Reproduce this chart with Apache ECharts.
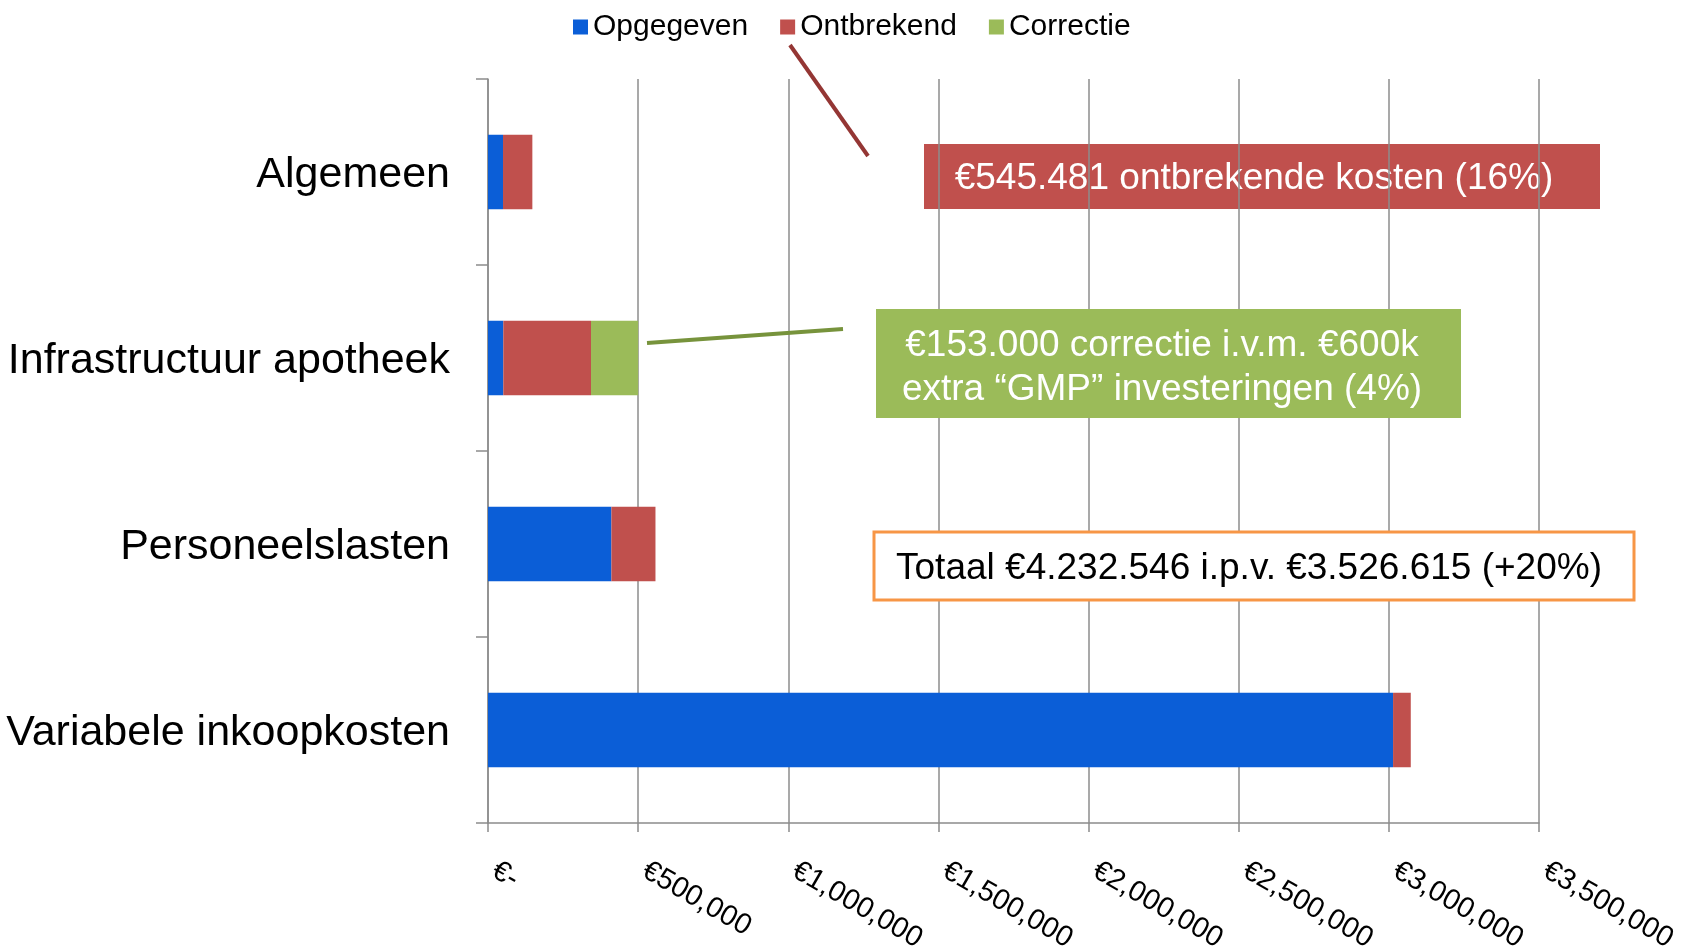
<!DOCTYPE html>
<html>
<head>
<meta charset="utf-8">
<script src="https://cdn.jsdelivr.net/npm/echarts@6/dist/echarts.min.js"></script>
<style>
  html, body { margin: 0; padding: 0; background: #fff; }
  #main { width: 1691px; height: 952px; }
</style>
</head>
<body>
<div id="main"></div>
<script>
var FONT = '"Liberation Sans", Arial, sans-serif';

var categories = ['Algemeen', 'Infrastructuur apotheek', 'Personeelslasten', 'Variabele inkoopkosten'];
var opgegeven = [50000, 51000, 411000, 3014000];
var ontbrekend = [97700, 292000, 146700, 59000];
var correctie = [0, 157000, 0, 0];

var axisMax = 3500000;
var axisStep = 500000;

var gray = '#8c8c8c';

function euro(v) {
  if (v === 0) return '€-';
  return '€' + v.toLocaleString('en-US');
}

var chart = echarts.init(document.getElementById('main'), null, { renderer: 'canvas' });

var option = {
  animation: false,
  textStyle: { fontFamily: FONT },
  legend: {
    left: 568,
    top: 7,
    icon: 'rect',
    itemWidth: 15,
    itemHeight: 15,
    itemGap: 32,
    textStyle: { fontSize: 30, color: '#000', fontFamily: FONT },
    data: ['Opgegeven', 'Ontbrekend', 'Correctie']
  },
  grid: {
    left: 488,
    right: 152,
    top: 79,
    bottom: 129,
    containLabel: false,
    outerBoundsMode: 'none'
  },
  xAxis: {
    type: 'value',
    min: 0,
    max: axisMax,
    interval: axisStep,
    axisLine: { show: true, lineStyle: { color: gray, width: 1.5 } },
    axisTick: { show: true, length: 9, lineStyle: { color: gray, width: 1.5 } },
    splitLine: { show: true, lineStyle: { color: gray, width: 1.5 } },
    axisLabel: {
      rotate: -30,
      margin: 42,
      padding: [0, 0, 0, 7],
      fontSize: 29,
      color: '#000',
      fontFamily: FONT,
      formatter: euro
    }
  },
  yAxis: {
    type: 'category',
    inverse: true,
    data: categories,
    axisLine: { show: true, lineStyle: { color: gray, width: 1.5 } },
    axisTick: { show: true, length: 12, lineStyle: { color: gray, width: 1.5 } },
    axisLabel: {
      color: '#000',
      margin: 38,
      formatter: function (v) { return '{c|' + v + '}'; },
      rich: {
        c: { fontSize: 43, color: '#000', fontFamily: FONT, padding: [7, 0, 0, 0] }
      }
    }
  },
  series: [
    {
      name: 'Opgegeven',
      type: 'bar',
      stack: 'kosten',
      barWidth: '40%',
      itemStyle: { color: '#0b5ed7' },
      data: opgegeven
    },
    {
      name: 'Ontbrekend',
      type: 'bar',
      stack: 'kosten',
      barWidth: '40%',
      itemStyle: { color: '#c0504d' },
      data: ontbrekend
    },
    {
      name: 'Correctie',
      type: 'bar',
      stack: 'kosten',
      barWidth: '40%',
      itemStyle: { color: '#9bbb59' },
      data: correctie
    }
  ],
  graphic: [
    // rode callout ligt achter de rasterlijnen
    {
      type: 'rect',
      z: -1,
      shape: { x: 924, y: 144, width: 676, height: 65 },
      style: { fill: '#c0504d' }
    },
    {
      type: 'text',
      z: -1,
      x: 1254,
      y: 179,
      style: {
        text: '€545.481 ontbrekende kosten (16%)',
        fill: '#fff',
        font: '37px ' + FONT,
        textAlign: 'center',
        textVerticalAlign: 'middle'
      }
    },
    {
      type: 'line',
      z: 10,
      shape: { x1: 790, y1: 45, x2: 868, y2: 156 },
      style: { stroke: '#943634', lineWidth: 4 }
    },
    // groene callout
    {
      type: 'rect',
      z: 10,
      shape: { x: 876, y: 309, width: 585, height: 109 },
      style: { fill: '#9bbb59' }
    },
    {
      type: 'text',
      z: 11,
      x: 1162,
      y: 368,
      style: {
        text: '€153.000 correctie i.v.m. €600k\nextra “GMP” investeringen (4%)',
        fill: '#fff',
        font: '37px ' + FONT,
        lineHeight: 44,
        textAlign: 'center',
        textVerticalAlign: 'middle'
      }
    },
    {
      type: 'line',
      z: 10,
      shape: { x1: 647, y1: 343, x2: 843, y2: 329 },
      style: { stroke: '#77933c', lineWidth: 4 }
    },
    // totaal
    {
      type: 'rect',
      z: 10,
      shape: { x: 874, y: 532, width: 760, height: 68 },
      style: { fill: '#fff', stroke: '#f79646', lineWidth: 3 }
    },
    {
      type: 'text',
      z: 11,
      x: 1249,
      y: 569,
      style: {
        text: 'Totaal €4.232.546 i.p.v. €3.526.615 (+20%)',
        fill: '#000',
        font: '37px ' + FONT,
        textAlign: 'center',
        textVerticalAlign: 'middle'
      }
    }
  ]
};

chart.setOption(option);
</script>
</body>
</html>
